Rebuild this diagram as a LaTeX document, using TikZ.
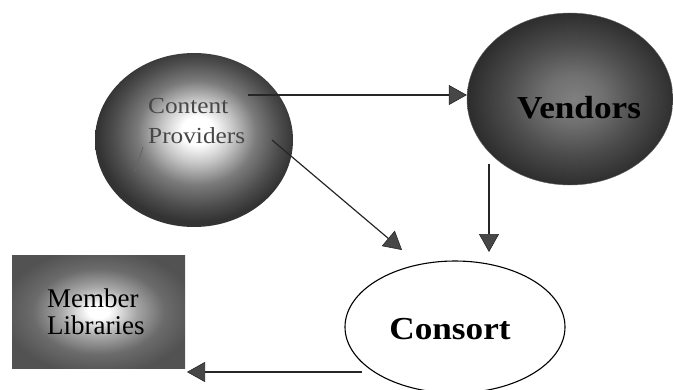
\documentclass[tikz,border=0pt]{standalone}
\usepackage{fontspec}
\setmainfont{Liberation Serif}
\newfontfamily\palfont[FakeStretch=1.1]{Liberation Serif}
\usetikzlibrary{arrows.meta,shapes.geometric}
\pgfdeclareradialshading{cpshade}{\pgfpoint{1bp}{3bp}}{color(0bp)=(white); color(4bp)=(white); color(9bp)=(black!22); color(15bp)=(black!52); color(21bp)=(black!70); color(25bp)=(black!80); color(50bp)=(black!80)}
\pgfdeclareradialshading{vshade}{\pgfpoint{1bp}{0bp}}{color(0bp)=(black!50); color(7bp)=(black!56); color(16bp)=(black!70); color(25bp)=(black!82); color(50bp)=(black!82)}
\pgfdeclareradialshading{mlshade}{\pgfpoint{0bp}{0bp}}{color(0bp)=(white); color(3bp)=(white); color(11bp)=(black!35); color(19bp)=(black!58); color(28bp)=(black!68); color(50bp)=(black!68)}
\tikzset{
  conn/.style={line width=1.2pt, draw=black!85, -{Triangle[length=18pt,width=20pt,fill=black!72,line width=0.6pt]}},
  cptext/.style={font=\palfont\fontsize{23}{30}\selectfont, text=black!72, align=left, inner sep=0pt},
  bigbold/.style={font=\palfont\bfseries\fontsize{32}{36}\selectfont, inner sep=0pt},
  mltext/.style={font=\fontsize{27}{26.5}\selectfont, align=left, inner sep=0pt},
}
\begin{document}
\begin{tikzpicture}[x=1pt,y=-1pt]
\path[use as bounding box, clip] (0,0) rectangle (673,389);
% shapes
\node[ellipse, minimum width=198pt, minimum height=174pt, inner sep=0pt, shading=cpshade] (cp) at (194,140) {};
\node[ellipse, minimum width=206pt, minimum height=172pt, inner sep=0pt, shading=vshade, draw=black!60, line width=0.4pt] (vend) at (570,99) {};
\node[rectangle, minimum width=173pt, minimum height=113pt, inner sep=0pt, shading=mlshade] (ml) at (98.5,311.5) {};
\node[ellipse, minimum width=220pt, minimum height=132pt, inner sep=0pt, draw=black, line width=1.1pt, fill=white] (cons) at (455,327) {};
% scan mark inside the circle
\draw[black!60, line width=0.9pt] (143,147) -- (135,172);
% texts
\node[cptext, anchor=north west] (cpt) at (148,98) {Content\\Providers};
\node[bigbold, anchor=base] (vt) at (579,118) {Vendors};
\node[bigbold, anchor=base] (ct) at (450,339) {Consort};
\node[mltext, anchor=north west] (mlt) at (47,289) {Member\\Libraries};
% connector ends
\coordinate (s1) at (248,95);
\coordinate (s2) at (272,140);
\coordinate (t2) at (402,250);
\coordinate (s3) at (489,164);
\coordinate (t3) at (489,252);
\coordinate (s4) at (362,372);
\coordinate (t4) at (187,372);
% connectors
\draw[conn] (s1) -- (vend.west |- s1);
\draw[conn] (s2) -- (t2);
\draw[conn] (s3) -- (t3);
\draw[conn] (s4) -- (t4);
\end{tikzpicture}
\end{document}
